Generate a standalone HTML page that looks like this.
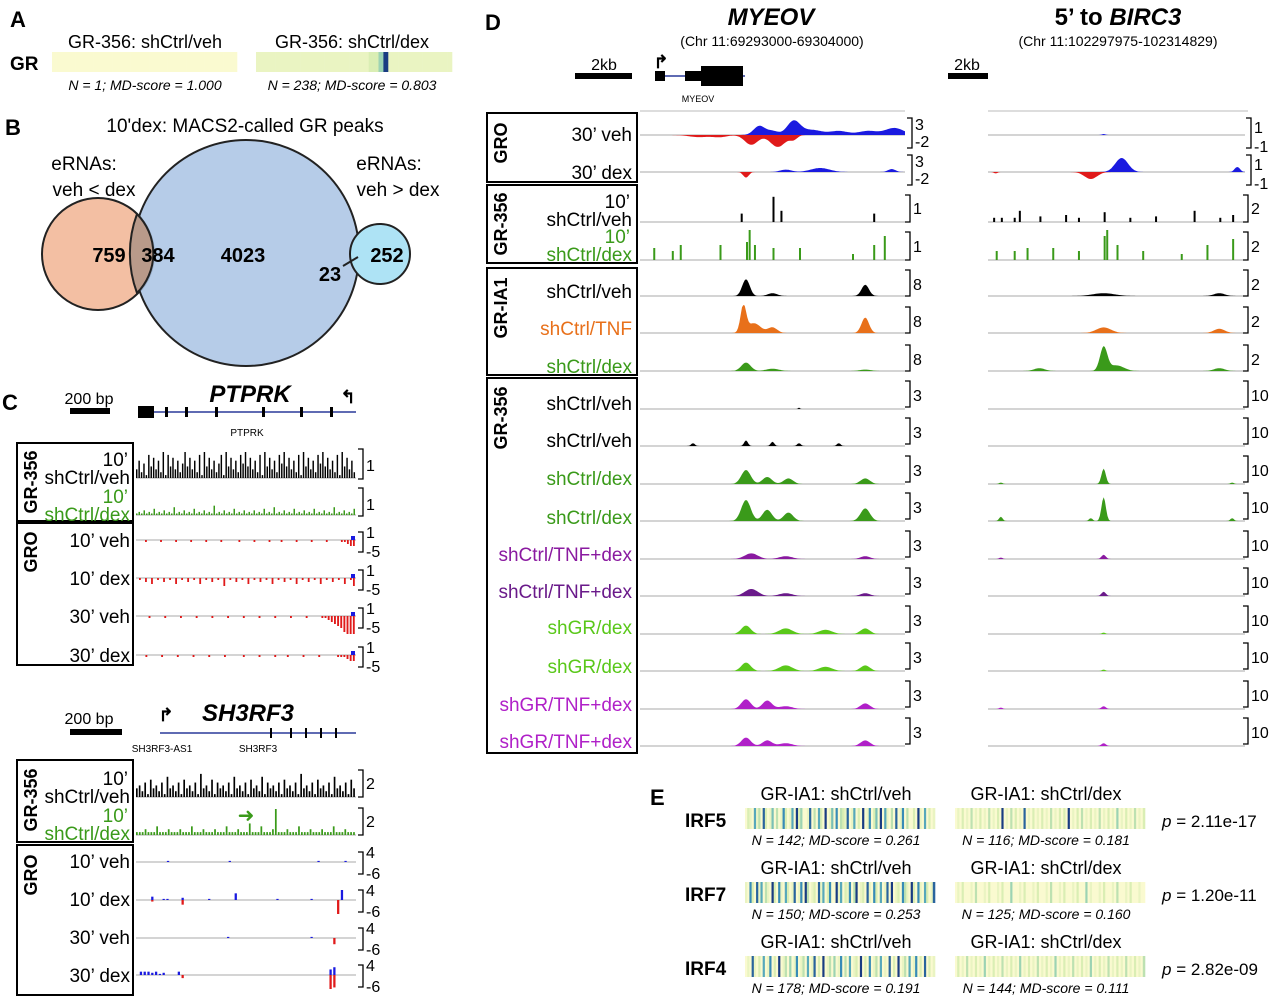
<!DOCTYPE html>
<html><head><meta charset="utf-8"><style>
body{margin:0;background:#fff}
svg{display:block;font-family:"Liberation Sans",sans-serif}
</style></head><body>
<svg id="fig" width="1280" height="1000" viewBox="0 0 1280 1000">
<g id="static">
<text x="10" y="27" font-size="22" font-weight="bold">A</text>
<text x="10" y="70" font-size="19" font-weight="bold">GR</text>
<text x="145" y="48" font-size="18" text-anchor="middle">GR-356: shCtrl/veh</text>
<text x="352" y="48" font-size="18" text-anchor="middle">GR-356: shCtrl/dex</text>
<text x="145" y="90" font-size="14" font-style="italic" text-anchor="middle">N = 1; MD-score = 1.000</text>
<text x="352" y="90" font-size="14" font-style="italic" text-anchor="middle">N = 238; MD-score = 0.803</text>
<text x="5" y="135" font-size="22" font-weight="bold">B</text>
<text x="245" y="132" font-size="19" text-anchor="middle">10'dex: MACS2-called GR peaks</text>
<circle cx="98" cy="254" r="56" fill="#f2b899" fill-opacity="0.9" stroke="#222" stroke-width="2"/>
<circle cx="246" cy="253" r="113" fill="#a9c3e4" fill-opacity="0.85" stroke="#222" stroke-width="2"/>
<path d="M 137 214 A 113 113 0 0 0 137 293 A 56 56 0 0 0 137 214 Z" fill="#b99a8a" stroke="#222" stroke-width="2"/>
<circle cx="380" cy="254" r="30" fill="#aee3f5" stroke="#222" stroke-width="2"/>
<text x="84" y="170" font-size="19" text-anchor="middle">eRNAs:</text>
<text x="94" y="196" font-size="19" text-anchor="middle">veh &lt; dex</text>
<text x="389" y="170" font-size="19" text-anchor="middle">eRNAs:</text>
<text x="398" y="196" font-size="19" text-anchor="middle">veh &gt; dex</text>
<g font-size="20" font-weight="bold" text-anchor="middle">
<text x="109" y="262">759</text>
<text x="158" y="262">384</text>
<text x="243" y="262">4023</text>
<text x="330" y="281">23</text>
<text x="387" y="262">252</text>
</g>
<line x1="343" y1="266" x2="358" y2="257" stroke="#222" stroke-width="2"/>
<text x="2" y="410" font-size="22" font-weight="bold">C</text>
<text x="89" y="404" font-size="16" text-anchor="middle">200 bp</text>
<rect x="70" y="408" width="40" height="6" fill="#000"/>
<text x="250" y="402" font-size="24" font-weight="bold" font-style="italic" text-anchor="middle">PTPRK</text>
<text x="247" y="436" font-size="10" text-anchor="middle">PTPRK</text>
<line x1="138" y1="412" x2="356" y2="412" stroke="#2a3a9a" stroke-width="1.5"/>
<rect x="138" y="406" width="16" height="12" fill="#000"/>
<rect x="165" y="407" width="3" height="10" fill="#000"/><rect x="185" y="407" width="3" height="10" fill="#000"/><rect x="215" y="407" width="3" height="10" fill="#000"/><rect x="262" y="407" width="3" height="10" fill="#000"/><rect x="300" y="407" width="3" height="10" fill="#000"/><rect x="330" y="407" width="3" height="10" fill="#000"/>
<text x="348" y="403" font-size="18" font-weight="bold" text-anchor="middle">↰</text>
<rect x="17" y="443" width="116" height="78" fill="none" stroke="#000" stroke-width="2"/>
<rect x="17" y="523" width="116" height="142" fill="none" stroke="#000" stroke-width="2"/>
<text transform="translate(37,482) rotate(-90)" font-size="18" font-weight="bold" text-anchor="middle">GR-356</text>
<text transform="translate(37,552) rotate(-90)" font-size="18" font-weight="bold" text-anchor="middle">GRO</text>
<g font-size="19" text-anchor="end">
<text x="128" y="466">10’</text><text x="130" y="484">shCtrl/veh</text>
<text x="128" y="503" fill="#3a9a1a">10’</text><text x="130" y="521" fill="#3a9a1a">shCtrl/dex</text>
<text x="130" y="547">10’ veh</text><text x="130" y="585">10’ dex</text>
<text x="130" y="623">30’ veh</text><text x="130" y="662">30’ dex</text>
</g>
<text x="89" y="724" font-size="16" text-anchor="middle">200 bp</text>
<rect x="70" y="729" width="52" height="6" fill="#000"/>
<text x="248" y="721" font-size="24" font-weight="bold" font-style="italic" text-anchor="middle">SH3RF3</text>
<text x="166" y="721" font-size="18" font-weight="bold" text-anchor="middle">↱</text>
<line x1="160" y1="733" x2="356" y2="733" stroke="#2a3a9a" stroke-width="1.5"/>
<rect x="270" y="728" width="2" height="10" fill="#000"/><rect x="290" y="728" width="2" height="10" fill="#000"/><rect x="305" y="728" width="2" height="10" fill="#000"/><rect x="320" y="728" width="2" height="10" fill="#000"/><rect x="335" y="728" width="2" height="10" fill="#000"/>
<text x="162" y="752" font-size="10" text-anchor="middle">SH3RF3-AS1</text>
<text x="258" y="752" font-size="10" text-anchor="middle">SH3RF3</text>
<rect x="17" y="760" width="116" height="82" fill="none" stroke="#000" stroke-width="2"/>
<rect x="17" y="845" width="116" height="150" fill="none" stroke="#000" stroke-width="2"/>
<text transform="translate(37,800) rotate(-90)" font-size="18" font-weight="bold" text-anchor="middle">GR-356</text>
<text transform="translate(37,875) rotate(-90)" font-size="18" font-weight="bold" text-anchor="middle">GRO</text>
<g font-size="19" text-anchor="end">
<text x="128" y="785">10’</text><text x="130" y="803">shCtrl/veh</text>
<text x="128" y="822" fill="#3a9a1a">10’</text><text x="130" y="840" fill="#3a9a1a">shCtrl/dex</text>
<text x="130" y="868">10’ veh</text><text x="130" y="906">10’ dex</text>
<text x="130" y="944">30’ veh</text><text x="130" y="982">30’ dex</text>
</g>
<text x="246" y="822" font-size="20" fill="#3a9a1a" text-anchor="middle">➜</text>
<text x="485" y="30" font-size="22" font-weight="bold">D</text>
<text x="771" y="25" font-size="24" font-weight="bold" font-style="italic" text-anchor="middle">MYEOV</text>
<text x="772" y="46" font-size="14" text-anchor="middle">(Chr 11:69293000-69304000)</text>
<text x="1118" y="25" font-size="24" font-weight="bold" text-anchor="middle">5’ to <tspan font-style="italic">BIRC3</tspan></text>
<text x="1118" y="46" font-size="14" text-anchor="middle">(Chr 11:102297975-102314829)</text>
<text x="604" y="70" font-size="16" text-anchor="middle">2kb</text>
<rect x="575" y="73" width="57" height="6" fill="#000"/>
<text x="967" y="70" font-size="16" text-anchor="middle">2kb</text>
<rect x="948" y="73" width="40" height="6" fill="#000"/>
<text x="661" y="68" font-size="18" font-weight="bold" text-anchor="middle">↱</text>
<line x1="655" y1="76" x2="745" y2="76" stroke="#2a3a9a" stroke-width="1.5"/>
<rect x="655" y="71" width="10" height="10" fill="#000"/><rect x="685" y="71" width="16" height="10" fill="#000"/><rect x="701" y="66" width="42" height="20" fill="#000"/>
<text x="698" y="102" font-size="9" text-anchor="middle">MYEOV</text>
<line x1="640" y1="111" x2="905" y2="111" stroke="#bbb"/>
<line x1="988" y1="111" x2="1248" y2="111" stroke="#bbb"/>
<rect x="487" y="113" width="150" height="69" fill="none" stroke="#000" stroke-width="2"/>
<rect x="487" y="185" width="150" height="78" fill="none" stroke="#000" stroke-width="2"/>
<rect x="487" y="268" width="150" height="107" fill="none" stroke="#000" stroke-width="2"/>
<rect x="487" y="378" width="150" height="375" fill="none" stroke="#000" stroke-width="2"/>
<text transform="translate(507,143) rotate(-90)" font-size="18" font-weight="bold" text-anchor="middle">GRO</text>
<text transform="translate(507,224) rotate(-90)" font-size="18" font-weight="bold" text-anchor="middle">GR-356</text>
<text transform="translate(507,308) rotate(-90)" font-size="18" font-weight="bold" text-anchor="middle">GR-IA1</text>
<text transform="translate(507,418) rotate(-90)" font-size="18" font-weight="bold" text-anchor="middle">GR-356</text>
<g font-size="19" text-anchor="end">
<text x="632" y="141">30’ veh</text><text x="632" y="179">30’ dex</text>
<text x="630" y="208">10’</text><text x="632" y="226">shCtrl/veh</text>
<text x="630" y="243" fill="#3a9a1a">10’</text><text x="632" y="261" fill="#3a9a1a">shCtrl/dex</text>
<text x="632" y="298">shCtrl/veh</text>
<text x="632" y="335" fill="#e8701a">shCtrl/TNF</text>
<text x="632" y="373" fill="#3a9a1a">shCtrl/dex</text>
<text x="632" y="410">shCtrl/veh</text>
<text x="632" y="447">shCtrl/veh</text>
<text x="632" y="485" fill="#3a9a1a">shCtrl/dex</text>
<text x="632" y="524" fill="#3a9a1a">shCtrl/dex</text>
<text x="632" y="561" fill="#8a1aa0">shCtrl/TNF+dex</text>
<text x="632" y="598" fill="#6a1a8a">shCtrl/TNF+dex</text>
<text x="632" y="634" fill="#5ac81a">shGR/dex</text>
<text x="632" y="673" fill="#5ac81a">shGR/dex</text>
<text x="632" y="711" fill="#b020c8">shGR/TNF+dex</text>
<text x="632" y="748" fill="#b020c8">shGR/TNF+dex</text>
</g>
<text x="650" y="805" font-size="22" font-weight="bold">E</text>
</g>
<g id="tracks"></g>
<g id="barcodes"></g>
</svg>
<script>
const myeovGroVehPos = [[0.45,0.45,0.03],[0.5,0.2,0.03],[0.58,0.7,0.035],[0.65,0.25,0.05],[0.75,0.2,0.05],[0.86,0.2,0.05],[0.96,0.35,0.05]];
const myeovGroVehNeg = [[0.22,0.15,0.05],[0.3,0.15,0.04],[0.42,0.7,0.035],[0.52,0.85,0.04],[0.58,0.3,0.02]];
const myeovGroDexPos = [[0.55,0.12,0.03],[0.68,0.2,0.05],[0.95,0.15,0.02]];
const myeovGroDexNeg = [[0.4,0.4,0.015]];
const birc3GroVehPos = [[0.45,0.05,0.01]];
const birc3GroDexPos = [[0.52,0.7,0.035],[0.97,0.25,0.015]];
const birc3GroDexNeg = [[0.4,0.5,0.035],[0.03,0.1,0.01]];
const myeovSpikeVeh = [[0.38,0.3],[0.5,0.9],[0.53,0.4],[0.88,0.3]];
const myeovSpikeDex = [[0.05,0.4],[0.12,0.3],[0.15,0.5],[0.3,0.5],[0.4,0.6],[0.41,1],[0.43,0.5],[0.5,0.4],[0.6,0.4],[0.8,0.2],[0.88,0.5],[0.92,0.8]];
const birc3SpikeVeh = [[0.02,0.3],[0.05,0.3],[0.1,0.3],[0.12,0.8],[0.2,0.4],[0.3,0.5],[0.35,0.3],[0.45,0.7],[0.55,0.3],[0.65,0.4],[0.8,0.8],[0.9,0.3],[0.95,0.5]];
const birc3SpikeDex = [[0.03,0.3],[0.1,0.3],[0.15,0.4],[0.25,0.4],[0.35,0.3],[0.45,0.8],[0.46,1],[0.5,0.5],[0.6,0.3],[0.75,0.2],[0.85,0.5],[0.95,0.7]];
const myeovIA1Veh = [[0.4,0.6,0.02],[0.5,0.1,0.025],[0.85,0.4,0.02]];
const myeovIA1Tnf = [[0.39,0.95,0.015],[0.43,0.35,0.035],[0.5,0.2,0.025],[0.85,0.55,0.02]];
const myeovIA1Dex = [[0.4,0.3,0.025],[0.5,0.08,0.035],[0.85,0.05,0.03]];
const birc3IA1Veh = [[0.45,0.1,0.06],[0.9,0.1,0.03]];
const birc3IA1Tnf = [[0.45,0.2,0.04],[0.9,0.15,0.03]];
const birc3IA1Dex = [[0.45,0.85,0.02],[0.5,0.2,0.04],[0.2,0.1,0.03],[0.9,0.1,0.03]];
const myeovGR = [
 [[0.6,0.05,0.005]],
 [[0.2,0.1,0.01],[0.4,0.2,0.01],[0.5,0.15,0.01],[0.6,0.1,0.01],[0.75,0.1,0.01]],
 [[0.4,0.5,0.025],[0.48,0.25,0.025],[0.56,0.2,0.025],[0.85,0.2,0.025]],
 [[0.4,0.75,0.025],[0.48,0.4,0.025],[0.56,0.3,0.025],[0.85,0.45,0.025]],
 [[0.42,0.2,0.035],[0.55,0.1,0.035],[0.85,0.1,0.025]],
 [[0.42,0.25,0.035],[0.55,0.1,0.035],[0.85,0.1,0.025]],
 [[0.4,0.3,0.025],[0.55,0.2,0.035],[0.7,0.15,0.035],[0.85,0.2,0.025]],
 [[0.4,0.3,0.025],[0.55,0.2,0.035],[0.7,0.15,0.035],[0.85,0.2,0.025]],
 [[0.4,0.35,0.025],[0.48,0.3,0.025],[0.55,0.1,0.035],[0.85,0.2,0.025]],
 [[0.4,0.3,0.025],[0.48,0.2,0.025],[0.55,0.1,0.035],[0.85,0.2,0.025]]
];
const birc3GR = [
 [],
 [],
 [[0.45,0.55,0.012],[0.05,0.05,0.01],[0.95,0.05,0.01]],
 [[0.45,0.85,0.012],[0.05,0.15,0.01],[0.4,0.1,0.01],[0.95,0.1,0.01]],
 [[0.45,0.15,0.012],[0.05,0.05,0.01]],
 [[0.45,0.15,0.012]],
 [[0.45,0.05,0.01]],
 [[0.45,0.05,0.01]],
 [[0.45,0.1,0.012],[0.05,0.05,0.01]],
 [[0.45,0.1,0.012]]
];
const grColors = ['#000','#000','#3a9a1a','#3a9a1a','#8a1aa0','#6a1a8a','#5ac81a','#5ac81a','#b020c8','#b020c8'];
const grMyeovMax = ['3','3','3','3','3','3','3','3','3','3'];
const grBirc3Max = ['10','10','10','10','10','10','10','10','10','10'];
const ptprkVeh = "3625184736291847362594736281947362581947362859473628194736285947362819473628594736281947362";
const ptprkDex = "1213121412131215121312141213121612131214121312131214121512131214121312141213121512131214";
const ptprkGro = ["0001000010000100001000010000100000100001000010001000010000100001000011233",
 "0102030102010301020103010201040102010301020103010201030102010301020103014",
 "0000100001000010000100001000010000100001000010000100001000011234568999",
 "0001000010000100001000010000100000100001000010001000010000100000111233"];
const sh3Veh = "3425163425173425163425183426153425173425163427153425163425183425163425173425163";
const sh3Dex = "1112111311121112111311121112111311121114111311129111211131112111211131112111";
const sh3GroPos = ["000000001000000000000000100000000000000000000001000000100","0000300110002000000100000060000000000100000000100000009000","0000000000000000000000001000000000000000000000100000000000","0333231200030000000000000000000000000000000000000005700000"];
const sh3GroNeg = ["000000000000000000000000000000000000000000000000000000000","0000100000003000000000000000000000000000000000000000090000","0000000000000000000000000000000000000000000000000000400000","0000000000002000000000000000000000000000000000000009800000"];
const eGenes = ['IRF5','IRF7','IRF4'];
const ePvals = ['2.11e-17','1.20e-11','2.82e-09'];
const eCaptionVeh = ['N = 142; MD-score = 0.261','N = 150; MD-score = 0.253','N = 178; MD-score = 0.191'];
const eCaptionDex = ['N = 116; MD-score = 0.181','N = 125; MD-score = 0.160','N = 144; MD-score = 0.111'];
const eBarsVeh = [
 "02106130820150301720160924001803062090150703218016020901702509061030801703002091060201",
 "10720816031092071062018017093012081602700916021703901208107206018090120731092071062018",
 "01081020601702090130401701306018020901304017030601209020701306010802090130601702080201"];
const eBarsDex = [
 "01020103010201030102090103020108010201020103010202090102030102010301020104010201030102",
 "01020001030001020001020004000102000102000103000102000102000401000102000103000102000100",
 "02010301020104010201030102010401020103010201040102010301020104010201030102010301020103"];
const aBarVeh = "0000000000000000000000000000000000000000";
const aBarDex = "1111111111111111111111122491111111111111";

const NS='http://www.w3.org/2000/svg';
function el(tag,attrs,parent){const e=document.createElementNS(NS,tag);for(const k in attrs)e.setAttribute(k,attrs[k]);parent.appendChild(e);return e;}
const tracks=document.getElementById('tracks');
const barcodes=document.getElementById('barcodes');
function xs(x0,x1,f){return x0+(x1-x0)*f;}
function peakPath(x0,x1,base,h,peaks,dir){
  const n=200;let d='M'+x0+' '+base;
  for(let i=0;i<=n;i++){const f=i/n;let v=0;
    for(const p of peaks){const z=(f-p[0])/p[2];v+=p[1]*Math.exp(-z*z);}
    v=Math.min(v,1);d+=' L'+xs(x0,x1,f).toFixed(1)+' '+(base-dir*v*h).toFixed(1);}
  return d+' L'+x1+' '+base+' Z';
}
function baseline(x0,x1,y){el('line',{x1:x0,y1:y,x2:x1,y2:y,stroke:'#aaa','stroke-width':1},tracks);}
function bracket(x,yTop,yBot,labels,ly){
  el('path',{d:`M${x} ${yTop} h5 v${yBot-yTop} h-5`,fill:'none',stroke:'#000','stroke-width':1.3},tracks);
  labels.forEach((t,i)=>{const tx=el('text',{x:x+8,y:ly[i],'font-size':16},tracks);tx.textContent=t;});
}
function peakTrack(x0,x1,base,h,peaks,color,name){
  baseline(x0,x1,base);
  const p=el('path',{d:peakPath(x0,x1,base,h,peaks,1),fill:color},tracks);
  
  
}
function groTrack(x0,x1,base,hp,hn,pos,neg,name){
  baseline(x0,x1,base);
  const a=el('path',{d:peakPath(x0,x1,base,hp,pos,1),fill:'#1a1ae0'},tracks);
  
  
  const b=el('path',{d:peakPath(x0,x1,base,hn,neg,-1),fill:'#e01a1a'},tracks);
  
  
}
function spikeTrack(x0,x1,base,h,spikes,color,name){
  baseline(x0,x1,base);
  const g=el('g',{},tracks);
  
  
  for(const s of spikes){el('rect',{x:xs(x0,x1,s[0]),y:base-s[1]*h,width:2,height:s[1]*h,fill:color},g);}
}
function digitTrack(x0,x1,base,h,str,color,dir,name){
  const g=el('g',{},tracks);
  
  
  const w=(x1-x0)/str.length;
  for(let i=0;i<str.length;i++){const v=+str[i]/9;if(!v)continue;
    const hh=v*h;el('rect',{x:x0+i*w,y:dir>0?base-hh:base,width:Math.max(1,w*0.6),height:hh,fill:color},g);}
}
function colorFor(v){
  const stops=[[250,250,208],[214,236,176],[140,204,180],[60,150,190],[25,60,130]];
  const t=v/9*(stops.length-1);const i=Math.min(Math.floor(t),stops.length-2);const f=t-i;
  const c=stops[i].map((s,k)=>Math.round(s+(stops[i+1][k]-s)*f));return `rgb(${c})`;
}
function barcode(x,y,w,h,str,name){
  const g=el('g',{},barcodes);
  
  
  const cw=w/str.length;
  for(let i=0;i<str.length;i++)el('rect',{x:(x+i*cw).toFixed(2),y:y,width:(cw+0.3).toFixed(2),height:h,fill:colorFor(+str[i])},g);
}
function txt(x,y,s,t,attrs,parent){const e=el('text',Object.assign({x:x,y:y,'font-size':s},attrs||{}),parent||barcodes);e.textContent=t;return e;}

barcode(52,52,185,20,aBarVeh,'a-barcode-veh');
barcode(256,52,196,20,aBarDex,'a-barcode-dex');

const LX0=640,LX1=905,RX0=988,RX1=1245;
groTrack(LX0,LX1,135,20,14,myeovGroVehPos,myeovGroVehNeg,'myeov-gro-30veh');
groTrack(LX0,LX1,172,20,14,myeovGroDexPos,myeovGroDexNeg,'myeov-gro-30dex');
groTrack(RX0,RX1,135,20,14,birc3GroVehPos,[],'birc3-gro-30veh');
groTrack(RX0,RX1,172,20,14,birc3GroDexPos,birc3GroDexNeg,'birc3-gro-30dex');
bracket(907,118,148,['3','-2'],[130,147]);bracket(907,155,185,['3','-2'],[167,184]);
bracket(1246,118,148,['1','-1'],[133,152]);bracket(1246,155,185,['1','-1'],[170,189]);
spikeTrack(LX0,LX1,222,28,myeovSpikeVeh,'#000','myeov-gr356-10veh');
spikeTrack(LX0,LX1,260,30,myeovSpikeDex,'#3a9a1a','myeov-gr356-10dex');
spikeTrack(RX0,RX1,222,14,birc3SpikeVeh,'#000','birc3-gr356-10veh');
spikeTrack(RX0,RX1,260,30,birc3SpikeDex,'#3a9a1a','birc3-gr356-10dex');
bracket(905,195,222,['1'],[214]);bracket(905,232,260,['1'],[252]);
bracket(1243,195,222,['2'],[214]);bracket(1243,232,260,['2'],[252]);
const iaBases=[296,333,371];
[[myeovIA1Veh,birc3IA1Veh,'#000','veh'],[myeovIA1Tnf,birc3IA1Tnf,'#e8701a','tnf'],[myeovIA1Dex,birc3IA1Dex,'#3a9a1a','dex']].forEach((r,i)=>{
  peakTrack(LX0,LX1,iaBases[i],28,r[0],r[2],'myeov-gria1-'+r[3]);
  peakTrack(RX0,RX1,iaBases[i],28,r[1],r[2],'birc3-gria1-'+r[3]);
  bracket(905,iaBases[i]-26,iaBases[i],['8'],[iaBases[i]-6]);
  bracket(1243,iaBases[i]-26,iaBases[i],['2'],[iaBases[i]-6]);
});
const grBases=[409,446,484,521,559,596,634,671,709,746];
grBases.forEach((b,i)=>{
  peakTrack(LX0,LX1,b,28,myeovGR[i],grColors[i],'myeov-gr356-track-'+(i+1));
  peakTrack(RX0,RX1,b,28,birc3GR[i],grColors[i],'birc3-gr356-track-'+(i+1));
  bracket(905,b-28,b-2,[grMyeovMax[i]],[b-8]);
  bracket(1243,b-28,b-2,[grBirc3Max[i]],[b-8]);
});

const CX0=136,CX1=356;
[[478,ptprkVeh,'#000',26],[515,ptprkDex,'#3a9a1a',14]].forEach((r,i)=>{baseline(CX0,CX1,r[0]);digitTrack(CX0,CX1,r[0],r[3],r[1],r[2],1,'ptprk-gr356-'+i);});
bracket(358,449,479,['1'],[471]);bracket(358,488,516,['1'],[510]);
[540,578,616,655].forEach((b,i)=>{baseline(CX0,CX1,b);digitTrack(CX0,CX1,b,18,ptprkGro[i],'#e01a1a',-1,'ptprk-gro-'+i);
  el('rect',{x:CX1-5,y:b-4,width:4,height:4,fill:'#1a1ae0'},tracks);
  bracket(358,b-8,b+12,['1','-5'],[b-2,b+17]);});
[[797,sh3Veh,'#000',26],[835,sh3Dex,'#3a9a1a',26]].forEach((r,i)=>{baseline(CX0,CX1,r[0]);digitTrack(CX0,CX1,r[0],r[3],r[1],r[2],1,'sh3rf3-gr356-'+i);});
bracket(358,770,797,['2'],[789]);bracket(358,808,835,['2'],[827]);
[862,900,938,975].forEach((b,i)=>{baseline(CX0,CX1,b);
  digitTrack(CX0,CX1,b,10,sh3GroPos[i],'#1a1ae0',1,'sh3rf3-gro-plus-'+i);
  digitTrack(CX0,CX1,b,14,sh3GroNeg[i],'#e01a1a',-1,'sh3rf3-gro-minus-'+i);
  bracket(358,b-10,b+12,['4','-6'],[b-4,b+17]);});

const eY=[808,882,956];
eGenes.forEach((g,i)=>{
  const y=eY[i];
  txt(685,y+19,19,g,{'font-weight':'bold'});
  txt(836,y-8,18,'GR-IA1: shCtrl/veh',{'text-anchor':'middle'});
  txt(1046,y-8,18,'GR-IA1: shCtrl/dex',{'text-anchor':'middle'});
  barcode(745,y,190,21,eBarsVeh[i],'e-barcode-veh-'+g.toLowerCase());
  barcode(955,y,190,21,eBarsDex[i],'e-barcode-dex-'+g.toLowerCase());
  txt(836,y+37,14,eCaptionVeh[i],{'font-style':'italic','text-anchor':'middle'});
  txt(1046,y+37,14,eCaptionDex[i],{'font-style':'italic','text-anchor':'middle'});
  const p=txt(1162,y+19,17,'');
  
  
  const ps=el('tspan',{'font-style':'italic'},p);ps.textContent='p';
  const pv=el('tspan',{},p);pv.textContent=' = '+ePvals[i];
});
</script>
</body></html>
